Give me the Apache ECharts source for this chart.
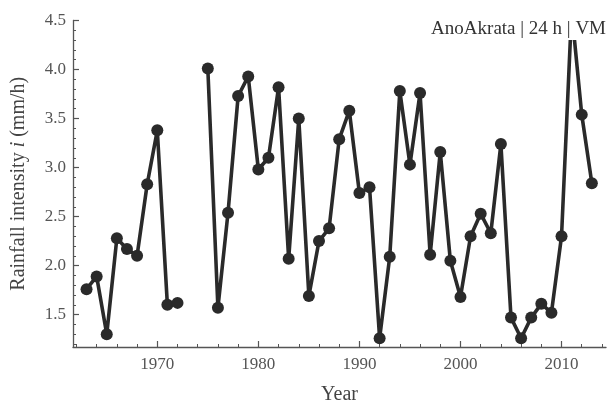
<!DOCTYPE html>
<html>
<head>
<meta charset="utf-8">
<script src="https://cdn.jsdelivr.net/npm/echarts@6/dist/echarts.min.js"></script>
<style>html,body{margin:0;padding:0;background:#fff}#c{width:609px;height:410px}</style>
</head>
<body>
<div id="c"></div>
<script>
var years = [1963,1964,1965,1966,1967,1968,1969,1970,1971,1972,1973,1974,1975,1976,1977,1978,1979,1980,1981,1982,1983,1984,1985,1986,1987,1988,1989,1990,1991,1992,1993,1994,1995,1996,1997,1998,1999,2000,2001,2002,2003,2004,2005,2006,2007,2008,2009,2010,2011,2012,2013];
var intensity = [1.76,1.89,1.30,2.28,2.17,2.10,2.83,3.38,1.60,1.62,null,null,4.01,1.57,2.54,3.73,3.93,2.98,3.10,3.82,2.07,3.50,1.69,2.25,2.38,3.29,3.58,2.74,2.80,1.26,2.09,3.78,3.03,3.76,2.11,3.16,2.05,1.68,2.30,2.53,2.33,3.24,1.47,1.26,1.47,1.61,1.52,2.30,4.60,3.54,2.84];
var xMajorTicks = [1970,1980,1990,2000,2010];
var xMinorTicks = [1962,1964,1966,1968,1970,1972,1974,1976,1978,1980,1982,1984,1986,1988,1990,1992,1994,1996,1998,2000,2002,2004,2006,2008,2010,2012,2014];
var yMajorTicks = [1.5,2.0,2.5,3.0,3.5,4.0,4.5];
var yMinorTicks = [1.2,1.3,1.4,1.5,1.6,1.7,1.8,1.9,2.0,2.1,2.2,2.3,2.4,2.5,2.6,2.7,2.8,2.9,3.0,3.1,3.2,3.3,3.4,3.5,3.6,3.7,3.8,3.9,4.0,4.1,4.2,4.3,4.4,4.5];
var labelText = 'AnoAkrata | 24 h | VM';

var FONT = '"Liberation Serif", "DejaVu Serif", serif';
var AX = '#555';
var TXT = '#555';
var XMIN = 1961.66, XMAX = 2014.4, YMIN = 1.17, YMAX = 4.5;

var data = years.map(function(y, i){ return [y, intensity[i]]; });

var chart = echarts.init(document.getElementById('c'), null, {renderer:'canvas'});
chart.setOption({
  animation: false,
  backgroundColor: '#fff',
  grid: {left: 73, top: 20.5, right: 3, bottom: 61, containLabel: false},
  xAxis: [
    {type:'value', min:XMIN, max:XMAX, position:'bottom',
     axisLine:{show:true, onZero:false, lineStyle:{color:AX, width:1.3}},
     axisTick:{show:true, inside:true, length:6, customValues:xMajorTicks, lineStyle:{color:AX, width:1.2}},
     axisLabel:{show:true, customValues:xMajorTicks, margin:9, color:TXT, fontFamily:FONT, fontSize:17, formatter:function(v){return String(v);}},
     splitLine:{show:false},
     name:'Year', nameLocation:'middle', nameGap:38, nameTextStyle:{color:'#444', fontFamily:FONT, fontSize:20}
    },
    {type:'value', min:XMIN, max:XMAX, position:'bottom',
     axisLine:{show:false, onZero:false},
     axisTick:{show:true, inside:true, length:3, customValues:xMinorTicks, lineStyle:{color:AX, width:1}},
     axisLabel:{show:false}, splitLine:{show:false}
    }
  ],
  yAxis: [
    {type:'value', min:YMIN, max:YMAX, position:'left',
     axisLine:{show:true, onZero:false, lineStyle:{color:AX, width:1.3}},
     axisTick:{show:true, inside:true, length:6, customValues:yMajorTicks, lineStyle:{color:AX, width:1.2}},
     axisLabel:{show:true, customValues:yMajorTicks, margin:7, color:TXT, fontFamily:FONT, fontSize:17, formatter:function(v){return v.toFixed(1);}},
     splitLine:{show:false},
     name:'{n|Rainfall intensity }{i|i}{n| (mm/h)}', nameLocation:'middle', nameGap:44, nameRotate:90,
     nameTextStyle:{color:'#444', fontFamily:FONT, fontSize:20, rich:{n:{color:'#444', fontFamily:FONT, fontSize:20}, i:{color:'#444', fontFamily:FONT, fontSize:20, fontStyle:'italic'}}}
    },
    {type:'value', min:YMIN, max:YMAX, position:'left',
     axisLine:{show:false, onZero:false},
     axisTick:{show:true, inside:true, length:3, customValues:yMinorTicks, lineStyle:{color:AX, width:1}},
     axisLabel:{show:false}, splitLine:{show:false}
    }
  ],
  series: [{
    type:'line', data:data, xAxisIndex:0, yAxisIndex:0,
    connectNulls:false, clip:true,
    symbol:'circle', symbolSize:12, showSymbol:true,
    lineStyle:{color:'#2a2a2a', width:3.6},
    itemStyle:{color:'#2a2a2a'},
    z:5
  }],
  graphic: [{
    type:'text', right:2, top:16, z:100,
    style:{text:labelText, fill:'#333', font:'19px "Liberation Serif", serif', backgroundColor:'#fff', padding:[4,1,1,1]}
  }]
});
</script>
</body>
</html>
